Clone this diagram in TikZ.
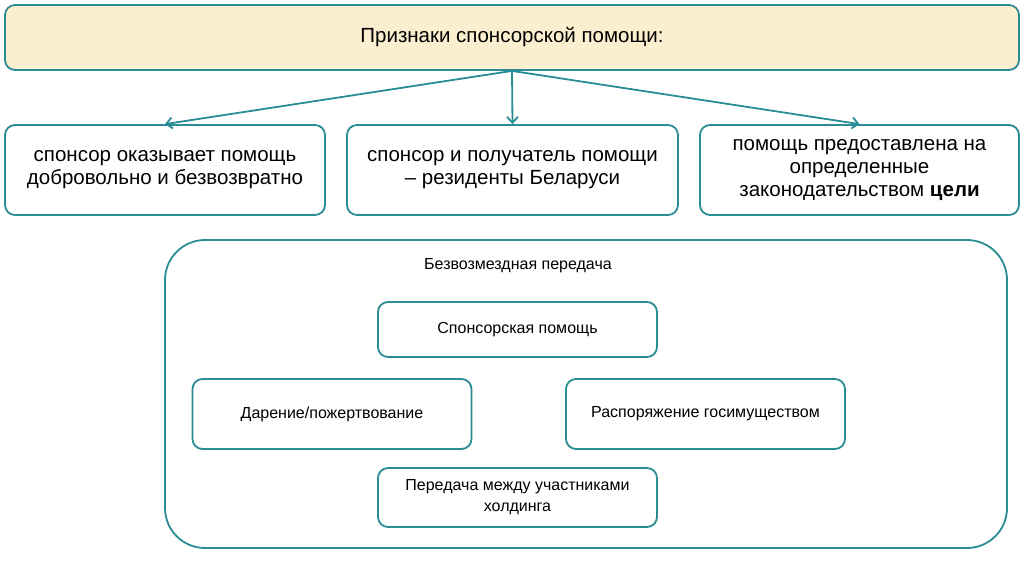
\documentclass[tikz,border=0pt]{standalone}
\usepackage{fontspec}
\setmainfont{Liberation Sans}
\usetikzlibrary{arrows.meta}

\definecolor{tealline}{RGB}{42,140,148}
\definecolor{beige}{RGB}{252,239,207}

\begin{document}
\begin{tikzpicture}[x=1pt, y=-1pt,
    box/.style={draw=tealline, line width=1.8pt, rounded corners=10pt, align=center, inner sep=0pt},
    sign/.style={box, minimum height=90pt, font=\fontsize{20.5}{23}\selectfont},
    kind/.style={box, minimum width=279pt, font=\fontsize{16}{21}\selectfont},
    link/.style={draw=tealline, line width=1.8pt, -{Straight Barb[length=6pt, width=11pt]}}]

    \useasboundingbox (0, 0) rectangle (1024, 574);

    \node[box, fill=beige, minimum width=1014pt, minimum height=65pt, font=\fontsize{20.5}{23}\selectfont] (title) at (512, 37.5) {Признаки спонсорской помощи:};

    \node[sign, minimum width=320pt] (free) at (165, 170) {спонсор оказывает помощь\\добровольно и безвозвратно};
    \node[sign, minimum width=331pt] (resid) at (512.5, 170) {спонсор и получатель помощи\\– резиденты Беларуси};
    \node[sign, minimum width=319pt] (goal) at (859.5, 170) {помощь предоставлена на\\определенные\\законодательством \textbf{цели}};

    \draw[link] (title.south) -- (free.north);
    \draw[link] (title.south) -- (resid.north);
    \draw[link] (title.south) -- (goal.north);

    \node[box, rounded corners=40pt, minimum width=842pt, minimum height=308pt] (transfer) at (586, 394) {};
    \node[font=\fontsize{16}{21}\selectfont] (transferlabel) at (518, 266) {Безвозмездная передача};

    \node[kind, minimum height=55pt] (sponsor) at (517.5, 329.5) {Спонсорская помощь};
    \node[kind, minimum height=70pt] (gift) at (332, 414) {Дарение/пожертвование};
    \node[kind, minimum height=70pt] (state) at (705.5, 414) {Распоряжение госимуществом};
    \node[kind, minimum height=59pt] (holding) at (517.5, 497.5) {Передача между участниками\\холдинга};

\end{tikzpicture}
\end{document}
